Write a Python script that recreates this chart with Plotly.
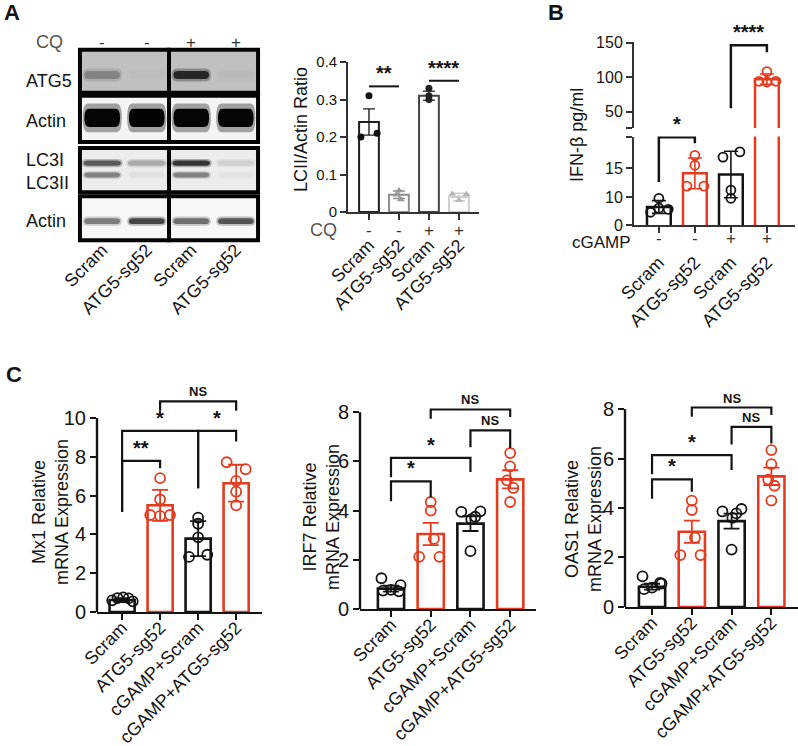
import plotly.graph_objects as go

W, H = 798, 746
FONT = "Liberation Sans, Arial, Helvetica, sans-serif"
RED = "#e63a1e"
INK = "#141414"

# ------------------------------------------------------------------ DATA
# Panel A - western blot (relative band intensity 0..1 per lane)
blot_lanes = ["Scram", "ATG5-sg52", "Scram", "ATG5-sg52"]
blot_cq = ["-", "-", "+", "+"]
blot_rows = ["ATG5", "Actin", "LC3I", "LC3II", "Actin"]
atg5_band = [0.32, 0.02, 0.80, 0.03]
actin_top_band = [0.98, 0.99, 0.98, 0.98]
lc3i_band = [0.62, 0.28, 0.78, 0.12]
lc3ii_band = [0.45, 0.05, 0.45, 0.04]
actin_bottom_band = [0.50, 0.72, 0.55, 0.66]

# Panel A - quantification
a_categories = ["Scram", "ATG5-sg52", "Scram", "ATG5-sg52"]
a_cq = ["-", "-", "+", "+"]
a_means = [0.24, 0.046, 0.31, 0.04]
a_sd = [0.035, 0.01, 0.012, 0.01]
a_points = [[0.31, 0.20, 0.21], [0.057, 0.046, 0.033],
            [0.33, 0.31, 0.30], [0.048, 0.047, 0.031]]
a_yticks = [0, 0.1, 0.2, 0.3, 0.4]
a_ytext = ["0", "0.1", "0.2", "0.3", "0.4"]
a_comparisons = [(0, 1, 0.335, "**"), (2, 3, 0.35, "****")]

# Panel B - IFN-beta ELISA
b_categories = ["Scram", "ATG5-sg52", "Scram", "ATG5-sg52"]
b_cgamp = ["-", "-", "+", "+"]
b_means = [8.3, 14.1, 13.9, 97.0]
b_sd = [1.1, 2.65, 4.0, 7.5]
b_points = [[9.8, 7.4, 7.9, 8.1], [17.2, 15.5, 11.9, 11.9],
            [16.9, 17.8, 11.2, 9.8], [108.0, 94.0, 93.0, 94.0]]
b_lower_ticks = [5.2, 10, 15, 20.45]
b_lower_text = ["0", "10", "15", ""]
b_upper_ticks = [26.5, 50, 100, 150]
b_upper_text = ["", "50", "100", "150"]
# (i, j, left leg bottom, right leg bottom, top, label, segment)
b_comparisons = [(0, 1, 12.6, 19.3, 20.3, "*", "lower"),
                 (2, 3, 55.0, 136.0, 146.0, "****", "upper")]

# Panel C - qPCR
c_categories = ["Scram", "ATG5-sg52", "cGAMP+Scram", "cGAMP+ATG5-sg52"]
mx1_means = [0.62, 5.5, 3.78, 6.64]
mx1_err = [0.1, 0.8, 0.9, 0.95]
mx1_points = [[0.60, 0.72, 0.75, 0.70, 0.55], [6.9, 5.8, 5.0, 4.95, 5.0],
              [4.86, 4.55, 3.85, 2.84, 2.95], [7.72, 7.36, 6.76, 6.2, 5.5]]
mx1_brackets = [(0, 1, 5.17, 7.41, 7.79, "**"), (0, 2, 5.17, 6.38, 9.34, "*"),
                (2, 3, 6.38, 8.79, 9.34, "*"), (1, 3, 10.38, 10.38, 10.86, "NS")]
irf7_means = [0.83, 3.05, 3.47, 5.27]
irf7_err = [0.12, 0.45, 0.3, 0.37]
irf7_points = [[1.25, 0.97, 0.78, 0.75, 0.72], [4.35, 4.0, 2.85, 2.12, 2.12],
               [3.95, 3.65, 3.97, 2.35, 3.75], [6.34, 5.8, 5.23, 4.92, 4.35]]
irf7_brackets = [(0, 1, 4.38, 4.55, 5.19, "*"), (0, 2, 5.36, 5.57, 6.14, "*"),
                 (2, 3, 6.58, 6.54, 7.26, "NS"), (1, 3, 7.73, 7.8, 8.11, "NS")]
oas1_means = [0.82, 3.04, 3.47, 5.28]
oas1_err = [0.12, 0.45, 0.3, 0.35]
oas1_points = [[1.24, 0.95, 0.78, 0.72, 0.97], [4.3, 3.92, 2.8, 2.1, 2.1],
               [3.86, 3.6, 3.96, 2.32, 3.78], [6.34, 5.77, 5.15, 4.9, 4.3]]
oas1_brackets = [(0, 1, 4.37, 4.66, 5.16, "*"), (0, 2, 5.36, 5.54, 6.14, "*"),
                 (2, 3, 6.57, 6.61, 7.28, "NS"), (1, 3, 7.69, 7.76, 8.06, "NS")]

# ------------------------------------------------------------------ STYLE
c_colors = [INK, RED, INK, RED]
A_JIT = [[0, -0.27, 0.27], [0, -0.08, 0.06], [0, 0, 0], [-0.22, 0.25, 0]]
B_JIT = [[0, -0.23, 0.26, 0], [0, 0, -0.22, 0.25], [-0.22, 0.25, 0, 0], [0, -0.22, 0, 0.25]]
MX1_JIT = [[-0.26, -0.12, 0.03, 0.17, 0.28], [0, 0, -0.26, 0, 0.26],
           [0, 0, 0, -0.24, 0.24], [-0.25, 0.25, 0, 0, 0]]
IRF_JIT = [[-0.24, 0.24, 0.0, -0.2, 0.2], [0, 0, 0.08, -0.29, 0.22],
           [-0.23, 0.02, 0.25, 0, 0.12], [0, 0, -0.08, 0.08, 0]]


def dom_x(a, b):
    return [a / W, b / W]


def dom_y(top, bottom):
    return [1 - bottom / H, 1 - top / H]


def pxx(x):
    return x / W


def pxy(y):
    return 1 - y / H


fig = go.Figure()
shapes = []
annotations = []


def text(x, y, s, size, xref="paper", yref="paper", color=INK, bold=False,
         xanchor="center", yanchor="middle", angle=0):
    if bold:
        s = "<b>" + s + "</b>"
    annotations.append(dict(x=x, y=y, xref=xref, yref=yref, text=s, showarrow=False,
                            font=dict(family=FONT, size=size, color=color),
                            xanchor=xanchor, yanchor=yanchor, textangle=angle))


# ------------------------------------------------------------------ PANEL A BLOT
STRIPS = [(0.0, 0.905), (0.968, 1.937), (2.063, 2.99), (3.074, 4.0)]
STRIP_BG = [192, 244, 236, 247]
HALVES = [(0.5, 2.5), (2.5, 4.5)]
for (s0, s1), bg in zip(STRIPS, STRIP_BG):
    for h0, h1 in HALVES:
        shapes.append(dict(type="rect", xref="x", yref="y", x0=h0, x1=h1, y0=s0, y1=s1,
                           fillcolor=f"rgb({bg},{bg},{bg})", line=dict(width=0)))


def stadium(cx, cy, hw, hh, r):
    return (f"M{cx-hw+r},{cy-hh} L{cx+hw-r},{cy-hh} Q{cx+hw},{cy-hh} {cx+hw},{cy} "
            f"Q{cx+hw},{cy+hh} {cx+hw-r},{cy+hh} L{cx-hw+r},{cy+hh} "
            f"Q{cx-hw},{cy+hh} {cx-hw},{cy} Q{cx-hw},{cy-hh} {cx-hw+r},{cy-hh} Z")


BAND_ROWS = [(atg5_band, 0, 0.53, 0.085, 0.40), (actin_top_band, 1, 1.43, 0.19, 0.40),
             (lc3i_band, 2, 2.38, 0.055, 0.42), (lc3ii_band, 2, 2.63, 0.05, 0.40),
             (actin_bottom_band, 3, 3.6, 0.06, 0.40)]
for vals, strip, cy, hh, hw in BAND_ROWS:
    bg = STRIP_BG[strip]
    for lane, inten in enumerate(vals):
        v = int(round(bg * (1 - inten)))
        col = f"rgb({v},{v},{v})"
        cx = lane + 1
        shapes.append(dict(type="path", xref="x", yref="y", path=stadium(cx, cy, hw * 1.1, hh * 1.6, 0.12),
                           fillcolor=col, opacity=0.35, line=dict(width=0)))
        shapes.append(dict(type="path", xref="x", yref="y", path=stadium(cx, cy, hw, hh, 0.1),
                           fillcolor=col, line=dict(width=0)))

for (s0, s1) in STRIPS:
    for h0, h1 in HALVES:
        shapes.append(dict(type="rect", xref="x", yref="y", x0=h0, x1=h1, y0=s0, y1=s1,
                           fillcolor="rgba(0,0,0,0)", line=dict(width=4, color="#050505")))

ROW_Y = [81, 121, 160, 183, 221]
for lab, yy in zip(blot_rows, ROW_Y):
    text(pxx(24), pxy(yy), lab, 18, xanchor="left")
text(pxx(49), pxy(42), "CQ", 18, color="#555555")
for i, s in enumerate(blot_cq):
    text(i + 1, pxy(42), s, 17, xref="x", color="#333333")

fig.add_trace(go.Scatter(x=[1], y=[1], xaxis="x", yaxis="y", mode="markers",
                         marker=dict(opacity=0), hoverinfo="skip"))

# ------------------------------------------------------------------ helpers for bar charts


def add_bars(xa, ya, means, errs, colors, lw, thick, capw, bw=0.66):
    for i, (m, e, c) in enumerate(zip(means, errs, colors)):
        fig.add_trace(go.Bar(x=[i], y=[m], width=bw, xaxis=xa, yaxis=ya,
                             marker=dict(color="rgba(255,255,255,0)", line=dict(color=c, width=lw)),
                             error_y=dict(type="data", array=[e], color=c, thickness=thick, width=capw)))


def add_points(xa, ya, points, jit, colors, symbols, size, lw, seg=None):
    for i, (pts, jj, c, sym) in enumerate(zip(points, jit, colors, symbols)):
        xs, ys = [], []
        for p, j in zip(pts, jj):
            if seg is None or seg(p):
                xs.append(i + j)
                ys.append(p)
        if xs:
            fig.add_trace(go.Scatter(x=xs, y=ys, xaxis=xa, yaxis=ya, mode="markers", cliponaxis=False,
                                     marker=dict(symbol=sym, size=size, color=c, line=dict(width=lw, color=c))))


def add_bracket(xa, ya, x0, x1, y0l, y1r, top, lw=2.2):
    fig.add_trace(go.Scatter(x=[x0, x0, x1, x1], y=[y0l, top, top, y1r], xaxis=xa, yaxis=ya,
                             mode="lines", line=dict(color=INK, width=lw), hoverinfo="skip"))


# ------------------------------------------------------------------ PANEL A QUANT
A_BAR_COL = ["#1e1e1e", "#8e8e8e", "#444444", "#cfcfcf"]
A_PT_COL = ["#111111", "#999999", "#222222", "#b5b5b5"]
add_bars("x2", "y2", a_means, a_sd, A_BAR_COL, 2, 1.4, 6)
add_points("x2", "y2", a_points, A_JIT, A_PT_COL,
           ["circle", "triangle-up", "circle", "triangle-up"], 7, 0)
for i, j, h, lab in a_comparisons:
    fig.add_trace(go.Scatter(x=[i, j], y=[h, h], xaxis="x2", yaxis="y2", mode="lines",
                             line=dict(color=INK, width=2)))
    text((i + j) / 2, h, lab, 20, xref="x2", yref="y2", bold=True, yanchor="bottom")
text(pxx(323), pxy(230), "CQ", 18, color="#555555")
for i, s in enumerate(a_cq):
    text(i, pxy(230), s, 17, xref="x2", color="#333333")
text(pxx(301), pxy(130), "LCII/Actin Ratio", 18, angle=-90)

# ------------------------------------------------------------------ PANEL B
B_COL = [INK, RED, INK, RED]
for ya, xa in (("y3", "x3"), ("y4", "x4")):
    add_bars(xa, ya, b_means, b_sd, B_COL, 2.5, 1.6, 7)
add_points("x4", "y4", b_points, B_JIT, B_COL, ["circle-open"] * 4, 9, 1.8, seg=lambda v: v < 26)
add_points("x3", "y3", b_points, B_JIT, B_COL, ["circle-open"] * 4, 9, 1.8, seg=lambda v: v >= 26)
for i, j, l, r, top, lab, segm in b_comparisons:
    xa, ya = ("x4", "y4") if segm == "lower" else ("x3", "y3")
    add_bracket(xa, ya, i, j, l, r, top, lw=2.5)
    text((i + j) / 2, top, lab, 20, xref=xa, yref=ya, bold=True, yanchor="bottom")
text(pxx(601), pxy(242), "cGAMP", 17)
for i, s in enumerate(b_cgamp):
    text(i, pxy(238), s, 17, xref="x4", color="#333333")
text(pxx(577), pxy(135), "IFN-β pg/ml", 18, angle=-90)

# ------------------------------------------------------------------ PANEL C
C_SPECS = [
    ("x5", "y5", mx1_means, mx1_err, mx1_points, MX1_JIT, mx1_brackets, 10, [0, 2, 4, 6, 8, 10]),
    ("x6", "y6", irf7_means, irf7_err, irf7_points, IRF_JIT, irf7_brackets, 8, [0, 2, 4, 6, 8]),
    ("x7", "y7", oas1_means, oas1_err, oas1_points, IRF_JIT, oas1_brackets, 8, [0, 2, 4, 6, 8]),
]
for xa, ya, means, errs, pts, jit, brackets, ymax, _ in C_SPECS:
    add_bars(xa, ya, means, errs, c_colors, 2.6, 1.8, 8)
    add_points(xa, ya, pts, jit, c_colors, ["circle-open"] * 4, 10, 1.8)
    for i, j, l, r, top, lab in brackets:
        add_bracket(xa, ya, i, j, l, r, top)
        if lab == "NS":
            text((i + j) / 2, top, lab, 13, xref=xa, yref=ya, bold=True, yanchor="bottom")
        else:
            text((i + j) / 2, top, lab, 20, xref=xa, yref=ya, bold=True, yanchor="bottom")
    shapes.append(dict(type="line", xref=f"{xa} domain", yref=ya, x0=0, x1=0, y0=0, y1=ymax,
                       line=dict(color=INK, width=2.4)))

text(pxx(50), pxy(512), "Mx1 Relative<br>mRNA Expression", 18, angle=-90)
text(pxx(321), pxy(517), "IRF7 Relative<br>mRNA Expression", 18, angle=-90)
text(pxx(583), pxy(519), "OAS1 Relative<br>mRNA Expression", 18, angle=-90)

# panel letters
text(pxx(2), pxy(12), "A", 22, bold=True, xanchor="left")
text(pxx(546), pxy(12), "B", 22, bold=True, xanchor="left")
text(pxx(4), pxy(374), "C", 22, bold=True, xanchor="left")

# ------------------------------------------------------------------ AXES


def xcat(domain, rng, anchor, labels, size, standoff, lw=2, color=INK):
    return dict(domain=domain, range=rng, anchor=anchor, showgrid=False, zeroline=False,
                showline=True, linecolor=color, linewidth=lw, ticks="outside", ticklen=6,
                tickwidth=lw, tickcolor=color, tickvals=list(range(len(labels))), ticktext=labels,
                tickangle=-45, tickfont=dict(family=FONT, size=size, color=INK),
                ticklabelstandoff=standoff, fixedrange=True, automargin=False)


def ynum(domain, rng, anchor, vals, txt, size, showline=True, lw=2, color=INK):
    return dict(domain=domain, range=rng, anchor=anchor, showgrid=False, zeroline=False,
                showline=showline, linecolor=color, linewidth=lw, ticks="outside", ticklen=6,
                tickwidth=lw, tickcolor=color, tickvals=vals, ticktext=txt,
                tickfont=dict(family=FONT, size=size, color=INK), fixedrange=True, automargin=False)


layout = dict(
    width=W, height=H, margin=dict(l=0, r=0, t=0, b=0, pad=0, autoexpand=False), showlegend=False,
    paper_bgcolor="white", plot_bgcolor="rgba(0,0,0,0)", barmode="overlay",
    font=dict(family=FONT, color=INK),
    xaxis=dict(domain=dom_x(75.5, 262.5), range=[0.4, 4.6], anchor="y", showgrid=False,
               zeroline=False, showline=False, ticks="", tickvals=[1, 2, 3, 4], ticktext=blot_lanes,
               tickangle=-45, tickfont=dict(family=FONT, size=18, color=INK), ticklabelstandoff=-10,
               automargin=False),
    yaxis=dict(domain=dom_y(45, 245), range=[4.1, -0.1], anchor="x", visible=False, automargin=False),
    xaxis2=xcat(dom_x(348, 479), [-0.7, 3.67], "y2", a_categories, 18, 8, lw=1.6, color="#333333"),
    yaxis2=ynum(dom_y(62, 212), [0, 0.4], "x2", a_yticks, a_ytext, 15, lw=1.6, color="#333333"),
    xaxis3=dict(domain=dom_x(634, 795), range=[-0.69, 3.78], anchor="y3", visible=False, automargin=False),
    yaxis3=ynum(dom_y(41.5, 128), [26.5, 151.5], "x3", b_upper_ticks, b_upper_text, 16, color="#333333"),
    xaxis4=xcat(dom_x(634, 795), [-0.69, 3.78], "y4", b_categories, 18, 12, color="#333333"),
    yaxis4=ynum(dom_y(136.5, 225), [5.2, 20.45], "x4", b_lower_ticks, b_lower_text, 16, color="#333333"),
    xaxis5=xcat(dom_x(97, 262), [-0.66, 3.68], "y5", c_categories, 18, -10, lw=2.4),
    yaxis5=ynum(dom_y(612 - 11.2 * 19.4, 612), [0, 11.2], "x5", C_SPECS[0][8],
                [str(v) for v in C_SPECS[0][8]], 20, showline=False, lw=2.4),
    xaxis6=xcat(dom_x(360, 536), [-0.78, 3.65], "y6", c_categories, 18, -10, lw=2.4),
    yaxis6=ynum(dom_y(609 - 8.3 * 24.6, 609), [0, 8.3], "x6", C_SPECS[1][8],
                [str(v) for v in C_SPECS[1][8]], 20, showline=False, lw=2.4),
    xaxis7=xcat(dom_x(625, 798), [-0.68, 3.67], "y7", c_categories, 18, -10, lw=2.4),
    yaxis7=ynum(dom_y(607 - 8.3 * 24.75, 607), [0, 8.3], "x7", C_SPECS[2][8],
                [str(v) for v in C_SPECS[2][8]], 20, showline=False, lw=2.4),
    shapes=shapes, annotations=annotations,
)
fig.update_layout(**layout)
fig.update_traces(hoverinfo="skip")
fig.write_html("out.html", config={"displayModeBar": False},
               post_script="document.body.style.margin='0';")
